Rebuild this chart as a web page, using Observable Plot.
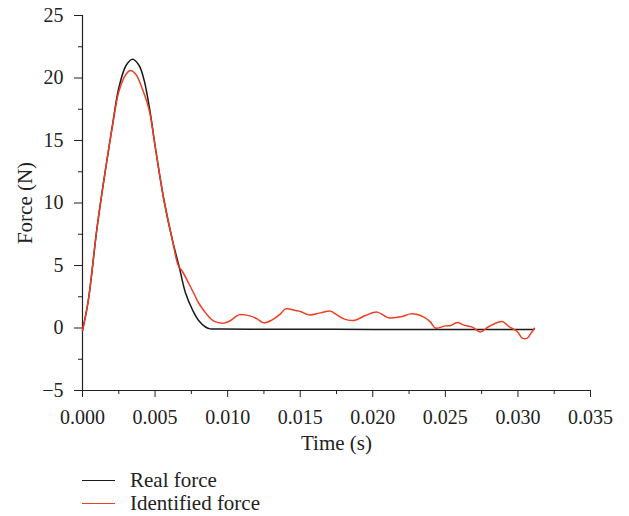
<!DOCTYPE html>
<html><head><meta charset="utf-8">
<script src="https://cdn.jsdelivr.net/npm/d3@7"></script>
<script src="https://cdn.jsdelivr.net/npm/@observablehq/plot@0.6"></script>
<style>
body{margin:0;background:#fff}
#wrap{position:relative;width:629px;height:516px;font-family:"Liberation Serif",serif;color:#222}
#wrap svg g[aria-label$="tick label"], #wrap svg g[aria-label$="tick label"] text{font-size:20px !important}
.leg{position:absolute;left:82px;height:22px;display:flex;align-items:center;font-size:21px;white-space:nowrap}
.leg .sw{display:inline-block;width:33px;height:0;border-top:1.5px solid;margin-right:15px}
</style></head><body><div id="wrap"></div>
<script>
const realT = [0, 0.0004, 0.001, 0.0016, 0.0021, 0.0025, 0.003, 0.00345, 0.0039, 0.00425, 0.0046, 0.00505, 0.0056, 0.0062, 0.00666, 0.0071, 0.0076, 0.008, 0.0085, 0.0088, 0.0095, 0.012, 0.016, 0.02, 0.025, 0.0311];
const realF = [-0.2, 2.2, 8.0, 12.8, 16.5, 19.2, 21.0, 21.5, 21.0, 19.8, 17.7, 14.2, 10.3, 7.0, 4.9, 2.8, 1.4, 0.6, 0.06, -0.07, -0.08, -0.1, -0.1, -0.12, -0.12, -0.12];
const identT = [0, 0.0004, 0.001, 0.0016, 0.0021, 0.0025, 0.003, 0.0033, 0.00367, 0.0041, 0.0046, 0.00505, 0.0056, 0.0062, 0.0066, 0.0069, 0.00735, 0.0077, 0.008, 0.00836, 0.0087, 0.00905, 0.00974, 0.0102, 0.01077, 0.01158, 0.01203, 0.01249, 0.01307, 0.01364, 0.01399, 0.01468, 0.01502, 0.0156, 0.0164, 0.01709, 0.01743, 0.018, 0.01869, 0.0195, 0.0203, 0.02076, 0.0211, 0.02203, 0.0226, 0.02352, 0.02398, 0.02432, 0.02501, 0.02536, 0.02582, 0.02628, 0.02685, 0.02742, 0.028, 0.02892, 0.02937, 0.02995, 0.0303, 0.03064, 0.03087, 0.03114];
const identF = [-0.2, 2.2, 8.0, 12.8, 16.4, 18.9, 20.3, 20.6, 20.3, 19.2, 17.4, 14.2, 10.3, 7.0, 5.0, 4.5, 3.5, 2.7, 2.0, 1.4, 0.9, 0.55, 0.39, 0.6, 1.05, 0.95, 0.73, 0.41, 0.65, 1.13, 1.53, 1.4, 1.32, 1.05, 1.21, 1.35, 1.13, 0.73, 0.6, 1.0, 1.27, 1.0, 0.82, 0.92, 1.13, 0.87, 0.47, 0.0, 0.17, 0.2, 0.44, 0.23, 0.07, -0.31, 0.12, 0.52, 0.12, -0.28, -0.81, -0.81, -0.47, -0.02];
const xTicks = [0, 0.005, 0.010, 0.015, 0.020, 0.025, 0.030, 0.035];
const xMinor = [0.0025, 0.0075, 0.0125, 0.0175, 0.0225, 0.0275, 0.0325];
const yTicks = [-5, 0, 5, 10, 15, 20, 25];
const yMinor = [-2.5, 2.5, 7.5, 12.5, 17.5, 22.5];
const seriesNames = ["Real force", "Identified force"];
const seriesColors = ["#1a1a1a", "#ee3d23"];

const real = realT.map((t, i) => ({t, f: realF[i]}));
const ident = identT.map((t, i) => ({t, f: identF[i]}));

const chart = Plot.plot({
  width: 629, height: 460,
  marginLeft: 82, marginRight: 39, marginTop: 15, marginBottom: 70,
  style: {fontFamily: '"Liberation Serif", serif', fontSize: "20px", color: "#222", background: "#fff"},
  x: {domain: [0, 0.035], label: null},
  y: {domain: [-5, 25], label: null},
  marks: [
    Plot.ruleY([-5], {stroke: "#222", strokeWidth: 1.2}),
    Plot.ruleX([0], {stroke: "#222", strokeWidth: 1.2}),
    Plot.axisX({ticks: xTicks, tickFormat: d => d.toFixed(3), tickSize: 7, tickPadding: 12, label: null, fontSize: 20}),
    Plot.axisX({ticks: xMinor, tickSize: 4, text: null, label: null}),
    Plot.axisY({ticks: yTicks, tickSize: 8, tickPadding: 11, label: null, fontSize: 20}),
    Plot.axisY({ticks: yMinor, tickSize: 4, text: null, label: null}),
    Plot.line(real, {x: "t", y: "f", stroke: seriesColors[0], strokeWidth: 1.5, curve: "catmull-rom"}),
    Plot.line(ident, {x: "t", y: "f", stroke: seriesColors[1], strokeWidth: 1.5, curve: "catmull-rom"}),
    Plot.text(["Force (N)"], {frameAnchor: "left", dx: -57, rotate: -90, textAnchor: "middle", lineAnchor: "middle", fontSize: 21, fill: "#222"}),
    Plot.text(["Time (s)"], {frameAnchor: "bottom", dy: 53, textAnchor: "middle", lineAnchor: "middle", fontSize: 21, fill: "#222"})
  ]
});
const wrap = document.getElementById("wrap");
wrap.appendChild(chart);
d3.select(chart).selectAll('g[aria-label$="tick label"]').style("font-size", "20px")
  .selectAll("text").style("font-size", "20px");
const legendY = [469, 492];
seriesNames.forEach((name, i) => {
  const d = document.createElement("div");
  d.className = "leg";
  d.style.top = legendY[i] + "px";
  d.innerHTML = `<span class="sw" style="border-color:${seriesColors[i]}"></span>${name}`;
  wrap.appendChild(d);
});
</script></body></html>
